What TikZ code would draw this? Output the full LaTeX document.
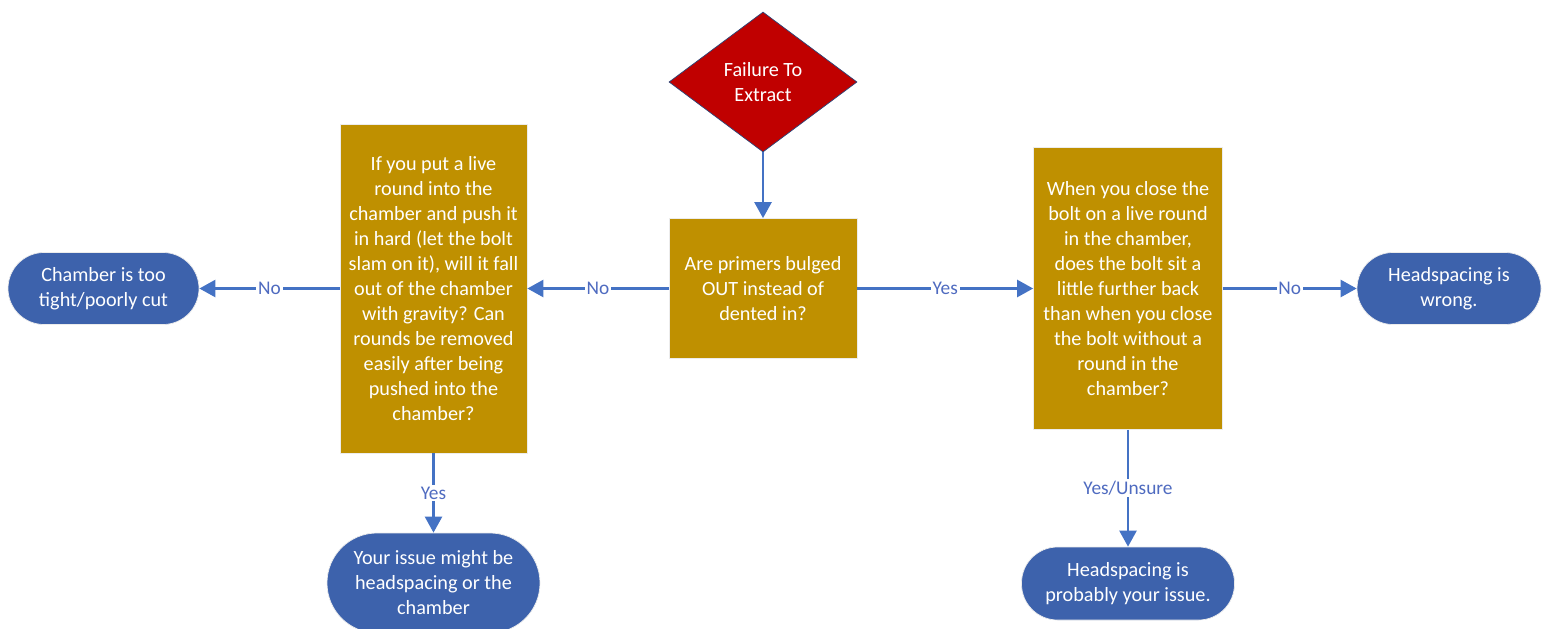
\documentclass[tikz,border=0pt]{standalone}
\usepackage{fontspec}
\setmainfont{Carlito}
\usepackage{tikz}
\usepackage{xcolor}
\usetikzlibrary{arrows.meta,positioning,shapes.geometric}
\definecolor{StartRed}{HTML}{C00000}
\definecolor{Gold}{HTML}{BF9000}
\definecolor{EndBlue}{HTML}{3D62AC}
\definecolor{Flow}{HTML}{4472C4}
\definecolor{LabelBlue}{HTML}{4F6BC0}
\begin{document}
\begin{tikzpicture}[
  start/.style={diamond,draw=EndBlue!70!black,fill=StartRed,text=white,minimum width=3.76cm,minimum height=2.8cm,inner sep=1pt,align=center,font=\fontsize{11.5}{14.2}\selectfont},
  question/.style={rectangle,draw=white!85!gray,fill=Gold,text=white,align=center,inner sep=2pt,font=\fontsize{11.5}{14.2}\selectfont},
  result/.style={rectangle,draw=white!85!gray,fill=EndBlue,text=white,align=center,rounded corners=0.72cm,minimum height=1.44cm,inner sep=2pt,font=\fontsize{11.5}{14.2}\selectfont},
  flow/.style={draw=Flow,line width=1.4pt,-{Triangle[length=0.32cm,width=0.34cm]}},
  answer/.style={fill=white,text=LabelBlue,inner sep=1pt,font=\fontsize{11}{13}\selectfont}
]
\useasboundingbox (0,0) rectangle (30.84,-12.56);
\node[start] (fail) at (15.26,-1.64) {Failure To\\Extract};
\node[question,minimum width=3.76cm,minimum height=2.8cm] (bulged) at (15.26,-5.77) {Are primers bulged\\OUT instead of\\dented in?};
\node[question,minimum width=3.74cm,minimum height=6.58cm] (gravity) at (8.67,-5.77) {If you put a live\\round into the\\chamber and push it\\in hard (let the bolt\\slam on it), will it fall\\out of the chamber\\with gravity? Can\\rounds be removed\\easily after being\\pushed into the\\chamber?};
\node[question,minimum width=3.78cm,minimum height=5.64cm] (boltback) at (22.56,-5.77) {When you close the\\bolt on a live round\\in the chamber,\\does the bolt sit a\\little further back\\than when you close\\the bolt without a\\round in the\\chamber?};
\node[result,minimum width=3.82cm] (tight) at (2.07,-5.77) {Chamber is too\\tight/poorly cut};
\node[result,minimum width=3.68cm] (wrong) at (28.98,-5.77) {Headspacing is\\wrong.};
\node[result,minimum width=4.26cm,minimum height=2.0cm,rounded corners=1.0cm] (either) at (8.67,-11.66) {Your issue might be\\headspacing or the\\chamber};
\node[result,minimum width=4.26cm,minimum height=1.46cm] (probably) at (22.56,-11.67) {Headspacing is\\probably your issue.};
\draw[flow] (fail) -- (bulged);
\foreach \a/\b/\t in {bulged/gravity/No,gravity/tight/No,bulged/boltback/Yes,boltback/wrong/No,gravity/either/Yes,boltback/probably/Yes\slash Unsure} {
  \draw[flow] (\a) -- node[answer] {\t} (\b);
}
\end{tikzpicture}
\end{document}
